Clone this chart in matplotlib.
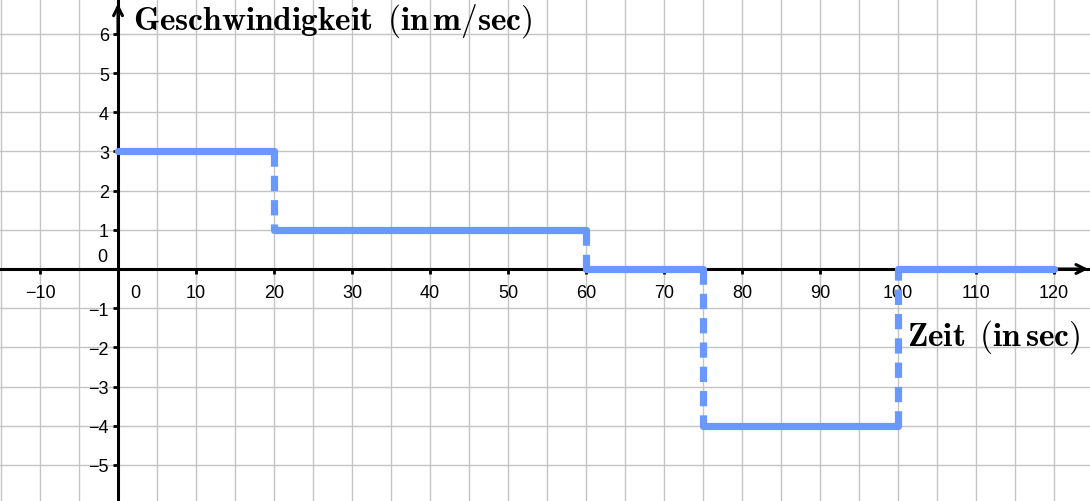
import matplotlib
matplotlib.use("Agg")
import matplotlib.pyplot as plt
import numpy as np

# Geschwindigkeit (m/sec) in den Zeitabschnitten (sec)
t_start = [0, 20, 60, 75, 100]
t_end = [20, 60, 75, 100, 120]
speed = [3, 1, 0, -4, 0]

x_labels = [-10, 10, 20, 30, 40, 50, 60, 70, 80, 90, 100, 110, 120]
y_labels = [-5, -4, -3, -2, -1, 1, 2, 3, 4, 5, 6]

plt.rcParams["mathtext.fontset"] = "cm"
plt.rcParams["font.family"] = ["Liberation Sans", "DejaVu Sans"]
plt.rcParams["lines.scale_dashes"] = False

blue = "#6a98ff"
grey = "#c4c4c4"

fig = plt.figure(figsize=(10.9, 5.02), dpi=100)
ax = fig.add_axes([0, 0, 1, 1])
ax.set_xlim(-15.13, 124.62)
ax.set_ylim(-5.923, 6.893)

# Gitter
for gx in np.arange(-15, 125, 5):
    ax.axvline(gx, color=grey, lw=1.0, zorder=0)
for gy in np.arange(-5, 7, 1):
    ax.axhline(gy, color=grey, lw=1.0, zorder=0)

# Achsen
for s in ["top", "right"]:
    ax.spines[s].set_visible(False)
ax.spines["left"].set_position(("data", 0))
ax.spines["bottom"].set_position(("data", 0))
ax.spines["left"].set_linewidth(2.2)
ax.spines["bottom"].set_linewidth(2.2)
ax.spines["left"].set_zorder(3)
ax.spines["bottom"].set_zorder(3)
ax.annotate("", xy=(124.4, 0), xytext=(118, 0),
            arrowprops=dict(arrowstyle="->", lw=2.2, color="black",
                            mutation_scale=16, shrinkA=0, shrinkB=0), zorder=4)
ax.annotate("", xy=(0, 6.78), xytext=(0, 6.0),
            arrowprops=dict(arrowstyle="->", lw=2.2, color="black",
                            mutation_scale=16, shrinkA=0, shrinkB=0), zorder=4)

ax.set_xticks(x_labels)
ax.set_yticks(y_labels)
ax.set_xticklabels([str(v).replace("-", "\u2212") for v in x_labels])
ax.set_yticklabels([str(v).replace("-", "\u2212") for v in y_labels])
ax.tick_params(axis="both", direction="out", length=3.5, width=2,
               labelsize=13, pad=3)
ax.tick_params(axis="x", pad=7)
ax.text(2.2, -0.38, "0", fontsize=13, ha="center", va="top")
ax.text(-1.4, 0.1, "0", fontsize=13, ha="right", va="bottom")

# Verlauf
ax.hlines(speed, t_start, t_end, colors=blue, lw=5.2, capstyle="round", zorder=5)
for i in range(1, len(speed)):
    ax.plot([t_start[i], t_start[i]], [speed[i - 1], speed[i]], color=blue,
            lw=5.2, ls=(0, (11, 6.5)), dash_capstyle="butt", zorder=5)

ax.text(1.9, 6.15, r"$\mathbf{Geschwindigkeit\ \,(in\,m/sec)}$",
        fontsize=24, ha="left", va="baseline")
ax.text(101.2, -1.92, r"$\mathbf{Zeit\ \,(in\,sec)}$",
        fontsize=24, ha="left", va="baseline")

plt.savefig("out.png", dpi=100)
